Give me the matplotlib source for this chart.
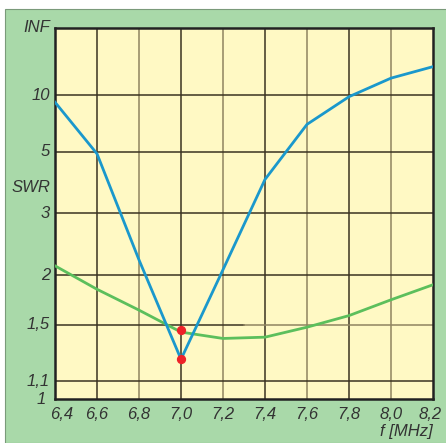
import numpy as np
import matplotlib
matplotlib.use('Agg')
import matplotlib.pyplot as plt
from matplotlib.patches import Rectangle

# data
freq = [6.4, 6.6, 6.8, 7.0, 7.2, 7.4, 7.6, 7.8, 8.0, 8.2]
swr_blue = [9.0, 4.9, 2.2, 1.24, 2.07, 3.9, 6.7, 9.8, 13.8, 18.2]
swr_green = [2.12, 1.84, 1.63, 1.44, 1.39, 1.40, 1.48, 1.58, 1.73, 1.89]
red_f = [7.0, 7.0]
red_swr = [1.46, 1.24]

xticks = [6.4, 6.6, 6.8, 7.0, 7.2, 7.4, 7.6, 7.8, 8.0, 8.2]
xlabels = ['6,4', '6,6', '6,8', '7,0', '7,2', '7,4', '7,6', '7,8', '8,0', '8,2']
yticks = [1.1, 1.5, 2, 3, 5, 10]
ylabels = ['1,1', '1,5', '2', '3', '5', '10']
SWR_INF = 1e9

# reflection coefficient scale
def fwd(s):
    s = np.asarray(s, dtype=float)
    return (s - 1) / (s + 1)

def inv(r):
    r = np.asarray(r, dtype=float)
    return (1 + r) / np.maximum(1 - r, 1e-12)

W, H = 446, 443
fig = plt.figure(figsize=(W / 100, H / 100), dpi=100)
fig.patch.set_facecolor('white')
fig.patches.append(Rectangle((5 / W, 0), 1, 434 / H, transform=fig.transFigure,
                             facecolor='#a9d9a9', edgecolor='#7a9a7a', lw=0.8, zorder=-1))

ax = fig.add_axes([55 / W, (H - 399) / H, 378 / W, 371 / H])
ax.set_facecolor('#fff9c4')
ax.set_yscale('function', functions=(fwd, inv))
ax.set_xlim(6.4, 8.2)
ax.set_ylim(1, SWR_INF)

dark = '#3b3322'
light = '#8f8460'
for i, x in enumerate(xticks[1:-1]):
    ax.axvline(x, color=dark if i % 2 == 0 else light, lw=1.1, zorder=1)
for y in [1.1, 2, 3, 5, 10]:
    ax.axhline(y, color=dark, lw=1.1, zorder=1)
ax.plot([6.4, 7.3], [1.5, 1.5], color=dark, lw=1.1, zorder=1)
ax.plot([7.3, 8.2], [1.5, 1.5], color=light, lw=1.1, zorder=1)

ax.plot(freq, swr_green, color='#5cbf5c', lw=2, zorder=3)
ax.plot(freq, swr_blue, color='#1a98cc', lw=2, zorder=4)
ax.scatter(red_f, red_swr, s=32, color='#ee2228', zorder=5)

for sp in ax.spines.values():
    sp.set_color('#222222')
    sp.set_linewidth(1.8)

ax.set_xticks([])
ax.set_yticks([])
ax.minorticks_off()

tf = dict(fontsize=12, style='italic', color='#333333', family='Liberation Sans')
for t, lab in zip(yticks, ylabels):
    ax.text(-0.013, fwd(t), lab, transform=ax.transAxes, ha='right', va='center', **tf)
ax.text(-0.013, 1.0, 'INF', transform=ax.transAxes, ha='right', va='center', **tf)
ax.text(-0.013, 0.57, 'SWR', transform=ax.transAxes, ha='right', va='center', **tf)
ax.text(-0.025, 0.0, '1', transform=ax.transAxes, ha='right', va='center', **tf)

for x, lab in zip(xticks, xlabels):
    dx = 0.0
    if x == 6.4:
        dx = 0.018
    if x == 8.2:
        dx = -0.008
    ax.text((x - 6.4) / 1.8 + dx, -0.042, lab, transform=ax.transAxes,
            ha='center', va='center', **tf)
ax.text(1.0, -0.088, 'f [MHz]', transform=ax.transAxes, ha='right', va='center', **tf)

fig.savefig('out.png', dpi=100)
